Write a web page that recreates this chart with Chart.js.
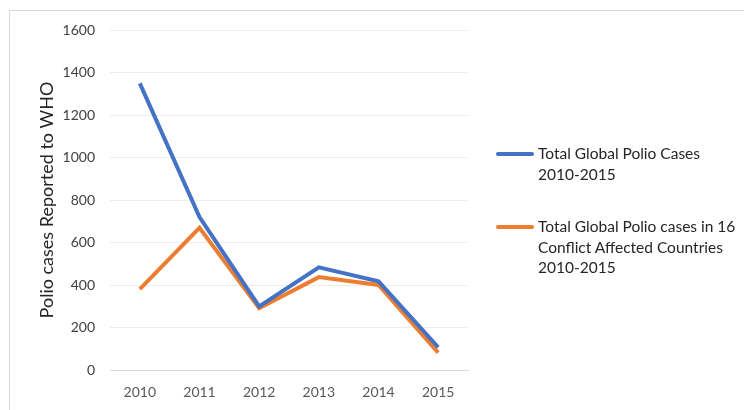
<!DOCTYPE html>
<html><head><meta charset="utf-8">
<script src="https://cdn.jsdelivr.net/npm/chart.js@4.4.0/dist/chart.umd.min.js"></script>
<style>
html,body{margin:0;padding:0;background:#fff;}
#wrap{position:relative;width:744px;height:410px;overflow:hidden;}
#frame{position:absolute;left:9px;top:10px;width:800px;height:500px;border-top:1px solid #d9d9d9;border-left:1px solid #d9d9d9;}
canvas{position:absolute;left:0;top:0;}
#legend{position:absolute;left:496px;top:0;font-family:Lato, "Open Sans", sans-serif;font-size:15.5px;color:#262626;}
.item{position:absolute;left:0;white-space:nowrap;}
.sw{position:absolute;left:0;width:38px;height:4px;border-radius:2px;}
.txt{position:absolute;left:42px;line-height:20.5px;}
</style></head>
<body><div id="wrap"><div id="frame"></div><canvas id="c" width="744" height="410"></canvas><div id="legend"></div></div>
<script>
const categories = ['2010','2011','2012','2013','2014','2015'];
const globalCases = [1349, 720, 299, 483, 417, 107];
const conflictCases = [381, 669, 291, 437, 400, 82];
const seriesLabels = [['Total Global Polio Cases','2010-2015'], ['Total Global Polio cases in 16','Conflict Affected Countries','2010-2015']];
const yTicks = [0,200,400,600,800,1000,1200,1400,1600];
const colors = ['#4472C4','#ED7D31'];

const chart = new Chart(document.getElementById('c'), {
  type: 'line',
  data: {
    labels: categories,
    datasets: [
      {label: seriesLabels[0].join(' '), data: globalCases, borderColor: colors[0], borderWidth: 4, pointRadius: 0, tension: 0, fill: false},
      {label: seriesLabels[1].join(' '), data: conflictCases, borderColor: colors[1], borderWidth: 4, pointRadius: 0, tension: 0, fill: false}
    ]
  },
  options: {
    responsive: false, animation: false,
    layout: {padding: {left: 36, right: 276, top: 30, bottom: 0}},
    plugins: {legend: {display: false}, tooltip: {enabled: false}},
    scales: {
      x: {
        offset: true,
        grid: {display: false, drawTicks: false},
        border: {color: '#d9d9d9', width: 1},
        ticks: {color: '#595959', font: {family: 'Lato', size: 14}, padding: 14},
        afterFit: s => { s.height = 40; }
      },
      y: {
        min: 0, max: 1600,
        afterBuildTicks: s => { s.ticks = yTicks.map(v => ({value: v})); },
        grid: {color: '#ededed', drawTicks: false},
        border: {display: false},
        ticks: {color: '#404040', font: {family: 'Lato', size: 14}, padding: 15, callback: v => String(v)},
        title: {display: true, text: 'Polio cases Reported to WHO', color: '#262626', font: {family: 'Lato', size: 18}, padding: {top: 0, bottom: 0}},
        afterFit: s => { s.width = 74; }
      }
    }
  }
});

const leg = document.getElementById('legend');
const tops = [154, 227];
seriesLabels.forEach((lines, i) => {
  const it = document.createElement('div'); it.className = 'item'; it.style.top = tops[i] + 'px';
  const sw = document.createElement('div'); sw.className = 'sw'; sw.style.background = colors[i]; sw.style.top = '-2px';
  const tx = document.createElement('div'); tx.className = 'txt'; tx.style.top = '-11px';
  tx.innerHTML = lines.join('<br>');
  it.appendChild(sw); it.appendChild(tx); leg.appendChild(it);
});
</script></body></html>
